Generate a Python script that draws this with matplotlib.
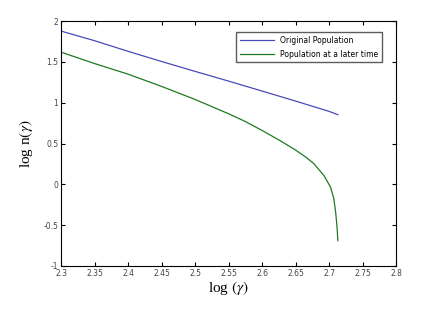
import numpy as np
import matplotlib
matplotlib.use('Agg')
import matplotlib.pyplot as plt

plt.rcParams['mathtext.fontset'] = 'stix'

#values
x_orig = [2.3, 2.35, 2.4, 2.45, 2.5, 2.55, 2.6, 2.65, 2.7, 2.713]
y_orig = [1.878, 1.76, 1.63, 1.505, 1.384, 1.265, 1.143, 1.02, 0.894, 0.853]

x_late = [2.3, 2.35, 2.4, 2.45, 2.5, 2.55, 2.575, 2.6, 2.627, 2.65, 2.665, 2.677,
          2.692, 2.702, 2.707, 2.710, 2.712, 2.713]
y_late = [1.62, 1.48, 1.35, 1.20, 1.04, 0.865, 0.77, 0.66, 0.535, 0.42, 0.335, 0.255,
          0.111, -0.032, -0.174, -0.36, -0.55, -0.69]

xticks = [2.3, 2.35, 2.4, 2.45, 2.5, 2.55, 2.6, 2.65, 2.7, 2.75, 2.8]
yticks = [-1, -0.5, 0, 0.5, 1, 1.5, 2]

fig = plt.figure(figsize=(4.21, 3.35), dpi=100)
ax = fig.add_axes([0.145, 0.206, 0.796, 0.731])

ax.plot(x_orig, y_orig, '-', color='#4a4ab8', lw=0.9, label='Original Population')
ax.plot(x_late, y_late, '-', color='#207a20', lw=0.9, label='Population at a later time')

ax.set_xlim(2.3, 2.8)
ax.set_ylim(-1, 2)
ax.set_xticks(xticks)
ax.set_xticklabels(['%g' % t for t in xticks])
ax.set_yticks(yticks)
ax.set_yticklabels(['%g' % t for t in yticks])
ax.tick_params(direction='in', top=True, right=True, length=3, width=0.8,
               labelsize=5.5, labelcolor='#444444', pad=2)
for s in ax.spines.values():
    s.set_linewidth(0.8)

ax.set_xlabel(r'log $(\gamma)$', family='Liberation Serif', fontsize=11, labelpad=1)
ax.set_ylabel(r'log n$(\gamma)$', family='Liberation Serif', fontsize=11, labelpad=6)

leg = ax.legend(loc='upper right', fontsize=5.5, frameon=True, fancybox=False,
                edgecolor='#333333', handlelength=4.5, borderpad=0.5,
                labelspacing=0.6, bbox_to_anchor=(0.97, 0.97))
leg.get_frame().set_linewidth(1.0)

fig.savefig('out.png', dpi=100)
